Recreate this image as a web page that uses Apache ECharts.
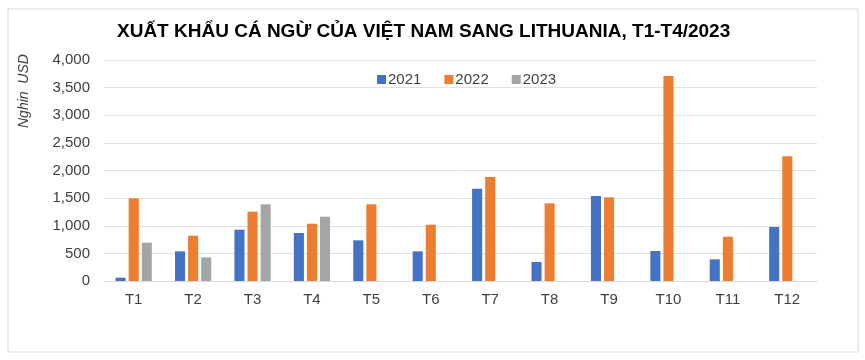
<!DOCTYPE html>
<html><head><meta charset="utf-8">
<script src="https://cdn.jsdelivr.net/npm/echarts@6/dist/echarts.min.js"></script>
<style>html,body{margin:0;padding:0;background:#fff}#c{width:865px;height:360px}</style>
</head><body><div id="c"></div>
<script>
const categories = ['T1','T2','T3','T4','T5','T6','T7','T8','T9','T10','T11','T12'];
const s2021 = [60, 537, 929, 869, 736, 537, 1671, 344, 1538, 543, 392, 977];
const s2022 = [1497, 820, 1255, 1037, 1388, 1019, 1882, 1406, 1514, 3710, 802, 2256];
const s2023 = [694, 428, 1388, 1164, null, null, null, null, null, null, null, null];
const yTicks = [0, 500, 1000, 1500, 2000, 2500, 3000, 3500, 4000];
const chart = echarts.init(document.getElementById('c'));
const font = 'Liberation Sans, Arial, sans-serif';
chart.setOption({
  animation: false,
  backgroundColor: '#fff',
  title: {
    text: 'XUẤT KHẨU CÁ NGỪ CỦA VIỆT NAM SANG LITHUANIA, T1-T4/2023',
    left: 112, top: 17,
    textStyle: {fontFamily: font, fontWeight: 'bold', fontSize: 19, color: '#000'}
  },
  legend: {
    top: 67, left: 372, itemWidth: 9, itemHeight: 9, itemGap: 23,
    textStyle: {fontFamily: font, fontSize: 15, color: '#404040', padding: [0,0,0,-3]},
    icon: 'rect'
  },
  graphic: [
    {type: 'rect', shape: {x: 8, y: 9, width: 850, height: 343}, style: {fill: 'none', stroke: '#d9d9d9', lineWidth: 1}, silent: true},
    {type: 'text', x: 17, y: 128, rotation: Math.PI/2, style: {text: 'Nghin  USD', fontFamily: font, fontStyle: 'italic', fontSize: 14, fill: '#404040'}, silent: true}
  ],
  grid: {left: 104, right: 48, top: 60, bottom: 79},
  xAxis: {
    type: 'category', data: categories,
    axisLine: {lineStyle: {color: '#d9d9d9'}}, axisTick: {show: false},
    axisLabel: {fontFamily: font, fontSize: 15, color: '#404040', margin: 11}
  },
  yAxis: {
    type: 'value', min: 0, max: 4000, interval: 500,
    axisLabel: {fontFamily: font, fontSize: 15, color: '#404040', margin: 14,
      formatter: v => yTicks.includes(v) ? v.toLocaleString('en-US') : ''},
    splitLine: {lineStyle: {color: '#e0e0e0'}},
    axisLine: {show: false}, axisTick: {show: false}
  },
  series: [
    {name: '2021', type: 'bar', data: s2021, itemStyle: {color: '#4472C4'}, barGap: '30%', barCategoryGap: '39%'},
    {name: '2022', type: 'bar', data: s2022, itemStyle: {color: '#ED7D31'}},
    {name: '2023', type: 'bar', data: s2023, itemStyle: {color: '#A5A5A5'}}
  ]
});
</script></body></html>
